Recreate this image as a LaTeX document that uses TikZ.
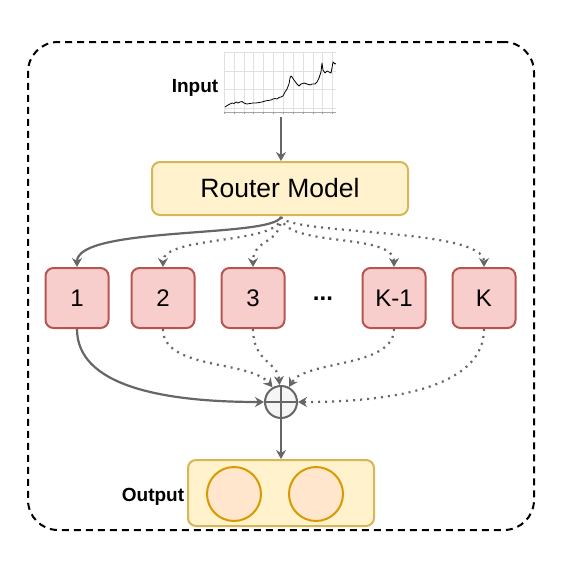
\documentclass[tikz,border=0pt]{standalone}
\usepackage{fontspec}
\setmainfont{Liberation Sans}
\usetikzlibrary{arrows.meta}
\definecolor{rfill}{HTML}{FFF2CC}
\definecolor{rdraw}{HTML}{D6B656}
\definecolor{efill}{HTML}{F8CECC}
\definecolor{edraw}{HTML}{B85450}
\definecolor{cfill}{HTML}{FFE6CC}
\definecolor{cdraw}{HTML}{D79B00}
\definecolor{lgray}{HTML}{666666}
\begin{document}
\begin{tikzpicture}[x=1pt,y=-1pt,
  expert/.style={draw=edraw,fill=efill,line width=2pt,rounded corners=8pt,minimum width=63pt,minimum height=60pt,font=\fontsize{24}{28}\selectfont,inner sep=0pt},
  conn/.style={draw=lgray,line width=2.2pt,-{Stealth[length=9pt,width=10pt,inset=3pt]}},
  dconn/.style={conn,dash pattern=on 2pt off 5pt},
  lbl/.style={font=\bfseries\fontsize{19}{22}\selectfont}]
\useasboundingbox (0,0) rectangle (566,566);
\node[draw,line width=2pt,dash pattern=on 7pt off 5pt,rounded corners=30pt,minimum width=506pt,minimum height=488pt,inner sep=0pt] (outer) at (281,286) {};
% chart
\node[minimum width=113pt,minimum height=62pt,inner sep=0pt] (chart) at (280,82) {};
\foreach \xx in {224,234,244,253,263,273,283,293,303,313,322,332}
  \draw[black!12,line width=0.6pt] (\xx,52) -- (\xx,112);
\foreach \yy in {52,71,89,108}
  \draw[black!12,line width=0.6pt] (224,\yy) -- (336,\yy);
\draw[black!35,line width=0.6pt] (224,112) -- (336,112);
\foreach \xx in {224,234,244,253,263,273,283,293,303,313,322,332}
  \draw[black!40,line width=0.5pt] (\xx,112) -- (\xx,114);
\draw[black,line width=0.8pt,line join=round] (225,107) -- (228,105) -- (230,104) -- (232,103) -- (234,103.5) -- (236,102) -- (238,103) -- (240,102) -- (242,101.5) -- (244,103) -- (247,104) -- (250,103.5) -- (253,103) -- (256,103) -- (259,102.5) -- (262,102) -- (265,101) -- (268,100.5) -- (271,100) -- (273,99) -- (275,98.5) -- (277,99) -- (279,97.5) -- (281,97) -- (283,96) -- (285,92) -- (287,89) -- (289,84) -- (290,78) -- (291,76) -- (292,77) -- (294,80) -- (297,84) -- (299,86) -- (301,84) -- (304,83) -- (307,84) -- (310,85) -- (312,84) -- (315,84) -- (317,82) -- (319,78) -- (321,72) -- (322,63) -- (323,70) -- (325,73) -- (327,71) -- (329,72) -- (331,73) -- (332,68) -- (333,62) -- (335,64) -- (336,63.5);
\node[lbl] (input) at (195,88) {Input};
\coordinate (chartbot) at (281,117);
% router
\node[draw=rdraw,fill=rfill,line width=2pt,rounded corners=8pt,minimum width=256pt,minimum height=53pt,font=\fontsize{26.5}{30}\selectfont] (router) at (280,188.5) {Router Model};
\draw[conn] (chartbot) -- (router.north -| chartbot);
% experts
\node[expert] (e1) at (77,298) {1};
\node[expert] (e2) at (163,298) {2};
\node[expert] (e3) at (253,298) {3};
\node[font=\bfseries\fontsize{24}{28}\selectfont] (dots) at (323,299) {...};
\node[expert] (ek1) at (394,298) {K-1};
\node[expert] (ek) at (484,298) {K};
\coordinate (rb) at (281,217);
\draw[conn] (rb) .. controls (272,238) and (77,226) .. (e1.north);
\draw[dconn] (rb) .. controls (281,245) and (163,235) .. (e2.north);
\draw[dconn] (rb) .. controls (281,245) and (253,238) .. (e3.north);
\draw[dconn] (rb) .. controls (285,248) and (394,232) .. (ek1.north);
\draw[dconn] (rb) .. controls (290,235) and (484,228) .. (ek.north);
% plus
\node[draw=lgray,fill=black!4,circle,line width=2pt,minimum size=32pt,inner sep=0pt] (plus) at (281,402) {};
\draw[lgray,line width=2pt] (plus.north) -- (plus.south) (plus.west) -- (plus.east);
\draw[conn] (e1.south) .. controls (77,385) and (160,402) .. (plus.west);
\draw[dconn] (e2.south) .. controls (163,370) and (250,360) .. (plus.120);
\draw[dconn] (e3.south) .. controls (253,362) and (278,362) .. (plus.95);
\draw[dconn] (ek1.south) .. controls (394,368) and (305,360) .. (plus.62);
\draw[dconn] (ek.south) .. controls (484,385) and (400,402) .. (plus.east);
% output
\node[draw=rdraw,fill=rfill,line width=2pt,rounded corners=8pt,minimum width=186pt,minimum height=66pt] (outbox) at (281,493) {};
\draw[conn] (plus.south) -- (outbox.north);
\node[draw=cdraw,fill=cfill,circle,line width=2pt,minimum size=54pt,inner sep=0pt] (o1) at (234,494) {};
\node[draw=cdraw,fill=cfill,circle,line width=2pt,minimum size=54pt,inner sep=0pt] (o2) at (316,494) {};
\node[lbl] (output) at (153,497) {Output};
\end{tikzpicture}
\end{document}
